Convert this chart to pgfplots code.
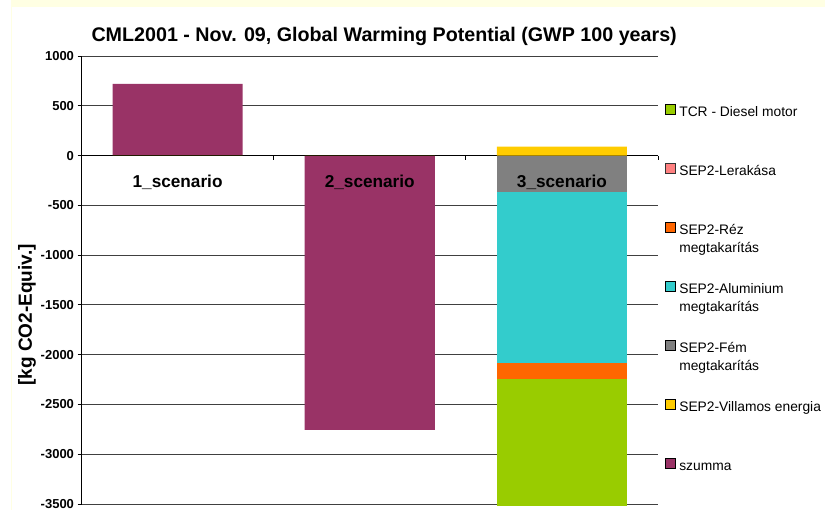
\documentclass[border=0pt]{standalone}
\usepackage{fontspec}
\setmainfont{Liberation Sans}
\usepackage{pgfplots}
\pgfplotsset{compat=1.18}

\definecolor{szumma}{HTML}{993366}
\definecolor{tcr}{HTML}{99CC00}
\definecolor{lerakasa}{HTML}{FF8080}
\definecolor{rez}{HTML}{FF6600}
\definecolor{alu}{HTML}{33CCCC}
\definecolor{fem}{HTML}{808080}
\definecolor{villamos}{HTML}{FFCC00}
\definecolor{band}{HTML}{FFFFE3}

% two-line legend entry, baseline on the first line
\newcommand{\twoline}[2]{\begin{tabular}[t]{@{}l@{}}#1\\#2\end{tabular}}

\pgfplotsset{
  chartframe/.style={
    at={(81.5bp,6bp)}, anchor=south west,
    scale only axis, width=576.5bp, height=448bp,
    xmin=-0.5, xmax=2.5, ymin=-3500, ymax=1000,
    clip=false, bar width=0.677,
  },
}

\begin{document}
\begin{tikzpicture}[x=1bp,y=1bp]
\fill[band] (11,502.5) rectangle (825,510);
\draw[band, line width=0.8bp] (11,0) -- (11,502.5);

% value axis, grid, title, legend and the stacked columns
\begin{axis}[
  chartframe,
  ybar stacked,
  axis x line=none, axis y line*=left,
  axis line style={black, line width=0.8bp},
  xtick=\empty,
  ytick={-3500,-3000,-2500,-2000,-1500,-1000,-500,0,500,1000},
  yticklabels={-3500,-3000,-2500,-2000,-1500,-1000,-500,0,500,1000},
  tick align=outside, major tick length=4bp,
  tick style={black, line width=0.8bp},
  ymajorgrids,
  major grid style={black!75, line width=0.8bp},
  yticklabel style={font=\bfseries\fontsize{13bp}{15bp}\selectfont},
  title={CML2001 - Nov. 09, Global Warming Potential (GWP 100 years)},
  title style={font=\bfseries\fontsize{19.7bp}{22bp}\selectfont,
    at={(axis description cs:0.525,1)}, anchor=base, yshift=9bp},
  ylabel={{[kg CO2-Equiv.]}},
  ylabel style={font=\bfseries\fontsize{19bp}{21bp}\selectfont,
    at={(axis description cs:-0.0945,0.422)}, anchor=center},
  legend cell align=left,
  legend image code/.code={\draw[#1] (0bp,-1bp) rectangle (10bp,9bp);},
  legend style={at={(axis description cs:1.0113,0.8929)}, anchor=north west,
    draw=none, fill=none, inner sep=0pt, outer sep=0pt,
    row sep=42.8bp, column sep=4bp,
    font=\fontsize{13.8bp}{18.5bp}\selectfont,
    nodes={inner sep=0pt, text height=10bp, text depth=4bp}},
]
% totals for scenarios 1-2, negative components for scenario 3
\addplot[fill=szumma, draw=none, forget plot] coordinates {(0,720) (1,-2755) (2,0)};
\addplot[fill=fem, draw=none, forget plot] coordinates {(0,0) (1,0) (2,-362)};
\addplot[fill=alu, draw=none, forget plot] coordinates {(0,0) (1,0) (2,-1720)};
\addplot[fill=rez, draw=none, forget plot] coordinates {(0,0) (1,0) (2,-161)};
\addplot[fill=lerakasa, draw=none, forget plot] coordinates {(0,0) (1,0) (2,0)};
\addplot[fill=tcr, draw=none, forget plot] coordinates {(0,0) (1,0) (2,-1275)};

\addlegendimage{fill=tcr, draw=none}
\addlegendentry{TCR - Diesel motor}
\addlegendimage{fill=lerakasa, draw=black!80, line width=0.8bp}
\addlegendentry{SEP2-Lerakása}
\addlegendimage{fill=rez, draw=none}
\addlegendentry{\twoline{SEP2-Réz}{megtakarítás}}
\addlegendimage{fill=alu, draw=none}
\addlegendentry{\twoline{SEP2-Aluminium}{megtakarítás}}
\addlegendimage{fill=fem, draw=none}
\addlegendentry{\twoline{SEP2-Fém}{megtakarítás}}
\addlegendimage{fill=villamos, draw=none}
\addlegendentry{SEP2-Villamos energia}
\addlegendimage{fill=szumma, draw=none}
\addlegendentry{szumma}
\end{axis}

% positive component of scenario 3 (rises from zero on its own),
% then the category axis with its names drawn over the columns
\begin{axis}[
  chartframe,
  ybar, bar shift=0pt,
  axis x line*=middle, axis y line=none,
  axis line style={black, line width=0.8bp},
  ytick=\empty,
  xtick={-0.5,0.5,1.5,2.5},
  xticklabels={},
  extra x ticks={0,1,2},
  extra x tick labels={1\_scenario,2\_scenario,3\_scenario},
  extra x tick style={major tick length=0pt,
    tick label style={font=\bfseries\fontsize{17.2bp}{19bp}\selectfont,
      anchor=base, yshift=-32bp}},
  tick align=outside, major tick length=4bp,
  tick style={black, line width=0.8bp},
]
\addplot[fill=villamos, draw=none] coordinates {(0,0) (1,0) (2,89)};
\end{axis}

\pgfresetboundingbox
\path (0,0) rectangle (825,510);
\end{tikzpicture}
\end{document}
